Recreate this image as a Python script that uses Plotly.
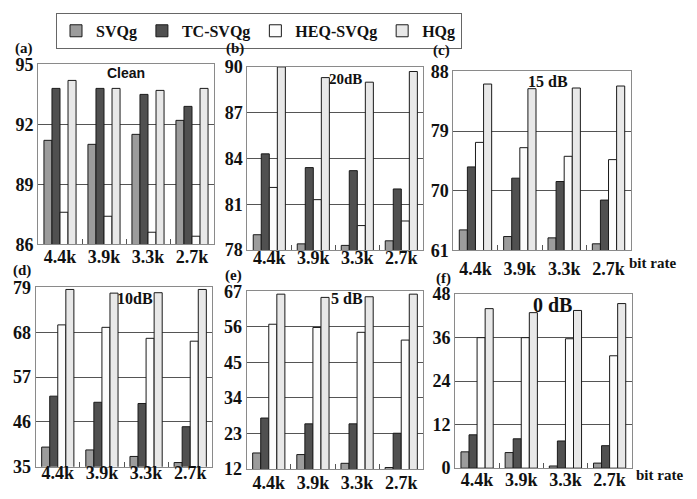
import plotly.graph_objects as go

W, H = 697, 499

categories = ["4.4k", "3.9k", "3.3k", "2.7k"]
series_names = ["SVQg", "TC-SVQg", "HEQ-SVQg", "HQg"]
series_colors = ["#9c9c9c", "#505050", "#fcfcfc", "#e8e8e8"]

# (a) Clean
clean_svqg = [91.2, 91.0, 91.5, 92.2]
clean_tc = [93.8, 93.8, 93.5, 92.9]
clean_heq = [87.6, 87.4, 86.6, 86.4]
clean_hq = [94.2, 93.8, 93.7, 93.8]
clean_ticks = [86, 89, 92, 95]

# (b) 20 dB
db20_svqg = [79.0, 78.4, 78.3, 78.6]
db20_tc = [84.3, 83.4, 83.2, 82.0]
db20_heq = [82.1, 81.3, 79.6, 79.9]
db20_hq = [90.0, 89.3, 89.0, 89.7]
db20_ticks = [78, 81, 84, 87, 90]

# (c) 15 dB
db15_svqg = [64.1, 63.1, 62.9, 62.0]
db15_tc = [73.6, 71.9, 71.4, 68.6]
db15_heq = [77.3, 76.5, 75.2, 74.7]
db15_hq = [86.1, 85.4, 85.5, 85.8]
db15_ticks = [61, 70, 79, 88]

# (d) 10 dB
db10_svqg = [39.8, 39.1, 37.5, 36.0]
db10_tc = [52.3, 50.8, 50.5, 44.8]
db10_heq = [69.8, 69.2, 66.5, 65.8]
db10_hq = [78.5, 77.6, 77.7, 78.5]
db10_ticks = [35, 46, 57, 68, 79]

# (e) 5 dB
db5_svqg = [17.0, 16.5, 13.8, 12.5]
db5_tc = [27.8, 26.0, 26.0, 23.1]
db5_heq = [56.8, 55.8, 54.3, 51.9]
db5_hq = [66.1, 65.1, 65.3, 66.1]
db5_ticks = [12, 23, 34, 45, 56, 67]

# (f) 0 dB
db0_svqg = [4.5, 4.3, 0.6, 1.4]
db0_tc = [9.2, 8.1, 7.5, 6.2]
db0_heq = [36.0, 36.0, 35.7, 31.0]
db0_hq = [44.0, 42.9, 43.5, 45.4]
db0_ticks = [0, 12, 24, 36, 48]

panels = [
    dict(lab="(a)", cond="Clean", data=[clean_svqg, clean_tc, clean_heq, clean_hq], ticks=clean_ticks),
    dict(lab="(b)", cond="20dB", data=[db20_svqg, db20_tc, db20_heq, db20_hq], ticks=db20_ticks),
    dict(lab="(c)", cond="15 dB", data=[db15_svqg, db15_tc, db15_heq, db15_hq], ticks=db15_ticks),
    dict(lab="(d)", cond="10dB", data=[db10_svqg, db10_tc, db10_heq, db10_hq], ticks=db10_ticks),
    dict(lab="(e)", cond="5 dB", data=[db5_svqg, db5_tc, db5_heq, db5_hq], ticks=db5_ticks),
    dict(lab="(f)", cond="0 dB", data=[db0_svqg, db0_tc, db0_heq, db0_hq], ticks=db0_ticks),
]

# layout geometry (pixels): left, right, top, bottom of each plot area
boxes = [
    (38, 214, 56.7, 244),
    (247.3, 423.3, 59.3, 250),
    (453.3, 630.7, 64, 250.5),
    (35.7, 212.3, 289, 475.7),
    (246.7, 423.3, 293, 478.3),
    (455, 631.7, 296, 477.3),
]
x_standoff = [-4, -9, 2, -10, -3, -5]
lab_pos = [(24, 40), (235, 40), (441, 42), (22, 271), (233, 277), (444, 280)]
cond_pos = [(126, 66), (345, 72), (548, 74), (135, 301), (347, 301), (552, 307)]
cond_size = [14, 15, 16, 16, 16, 20]
cond_family = ["Liberation Sans", "Liberation Serif", "Liberation Serif",
               "Liberation Serif", "Liberation Serif", "Liberation Serif"]

SERIF = "Liberation Serif"


def px(x):
    return x / W


def py(y):
    return 1 - y / H


fig = go.Figure()
layout_axes = {}
annotations = []

for i, p in enumerate(panels):
    n = "" if i == 0 else str(i + 1)
    xa, ya = "x" + n, "y" + n
    for k in range(4):
        fig.add_trace(go.Bar(
            x=categories, y=p["data"][k], name=series_names[k],
            marker=dict(color=series_colors[k], line=dict(color="#1a1a1a", width=1)),
            xaxis=xa, yaxis=ya, legendgroup=series_names[k], showlegend=(i == 0),
        ))
    l, r, t, b = boxes[i]
    layout_axes["xaxis" + n] = dict(
        domain=[px(l), px(r)], anchor=ya, type="category",
        showline=True, mirror=True, linecolor="#8a8a8a", linewidth=1,
        ticks="inside", tickson="boundaries", ticklen=5, tickcolor="#555",
        showgrid=False, ticklabelstandoff=x_standoff[i],
        tickfont=dict(family=SERIF, size=18, color="#111", weight="bold"),
    )
    layout_axes["yaxis" + n] = dict(
        domain=[py(b), py(t)], anchor=xa,
        range=[p["ticks"][0], p["ticks"][-1]], tickvals=p["ticks"],
        showline=True, mirror=True, linecolor="#8a8a8a", linewidth=1,
        showgrid=True, gridcolor="#555", gridwidth=1, zeroline=False,
        ticks="", tickfont=dict(family=SERIF, size=18, color="#111", weight="bold"),
    )
    annotations.append(dict(
        x=px(lab_pos[i][0]), y=py(lab_pos[i][1]), xref="paper", yref="paper",
        text=p["lab"], showarrow=False, xanchor="center", yanchor="middle",
        font=dict(family=SERIF, size=15, color="#111", weight="bold"),
    ))
    annotations.append(dict(
        x=px(cond_pos[i][0]), y=py(cond_pos[i][1]), xref="paper", yref="paper",
        text=p["cond"], showarrow=False, xanchor="center", yanchor="middle",
        font=dict(family=cond_family[i], size=cond_size[i], color="#111", weight="bold"),
    ))

annotations.append(dict(x=px(652), y=py(264), xref="paper", yref="paper", text="bit rate",
                        showarrow=False, xanchor="center", yanchor="middle",
                        font=dict(family=SERIF, size=15, color="#111", weight="bold")))
annotations.append(dict(x=px(659), y=py(484), xref="paper", yref="paper", text="bit rate",
                        showarrow=False, xanchor="center", yanchor="middle",
                        font=dict(family=SERIF, size=15, color="#111", weight="bold")))

fig.update_layout(
    width=W, height=H, autosize=False,
    margin=dict(l=0, r=0, t=0, b=0),
    paper_bgcolor="white", plot_bgcolor="white",
    barmode="group", bargap=0.27, bargroupgap=0,
    showlegend=True,
    legend=dict(orientation="h", x=px(259), y=py(3), xanchor="center", yanchor="top",
                bordercolor="#666", borderwidth=1, bgcolor="white",
                font=dict(family=SERIF, size=16, color="#111", weight="bold"),
                itemwidth=30, tracegroupgap=0),
    annotations=annotations,
    **layout_axes,
)

fig.write_html("out.html")
